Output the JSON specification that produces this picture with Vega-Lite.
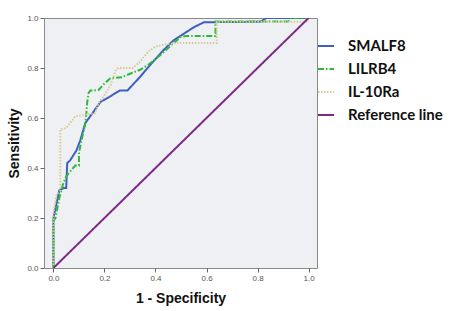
{
  "$schema": "https://vega.github.io/schema/vega-lite/v6.json",
  "width": 273,
  "height": 250,
  "autosize": {"type": "none"},
  "padding": {"left": 44, "top": 18, "right": 144, "bottom": 43},
  "background": "white",
  "config": {
    "view": {"fill": "#eef0f3", "stroke": "#8a8a8a", "strokeWidth": 1},
    "axis": {
      "domain": false,
      "grid": false,
      "tickColor": "#666666",
      "tickSize": 4,
      "labelFont": "Liberation Sans",
      "labelFontSize": 8,
      "labelColor": "#555555",
      "titleFont": "Liberation Sans",
      "titleFontWeight": "bold",
      "titleFontSize": 14,
      "titleColor": "#111111"
    }
  },
  "data": {
    "values": [
      {"s": "SMALF8", "x": 0, "y": 0},
      {"s": "SMALF8", "x": 0, "y": 0.2},
      {"s": "SMALF8", "x": 0.023, "y": 0.31},
      {"s": "SMALF8", "x": 0.04, "y": 0.32},
      {"s": "SMALF8", "x": 0.05, "y": 0.32},
      {"s": "SMALF8", "x": 0.054, "y": 0.42},
      {"s": "SMALF8", "x": 0.065, "y": 0.43},
      {"s": "SMALF8", "x": 0.09, "y": 0.47},
      {"s": "SMALF8", "x": 0.105, "y": 0.51},
      {"s": "SMALF8", "x": 0.125, "y": 0.58},
      {"s": "SMALF8", "x": 0.15, "y": 0.615},
      {"s": "SMALF8", "x": 0.185, "y": 0.665},
      {"s": "SMALF8", "x": 0.22, "y": 0.685},
      {"s": "SMALF8", "x": 0.26, "y": 0.71},
      {"s": "SMALF8", "x": 0.29, "y": 0.71},
      {"s": "SMALF8", "x": 0.34, "y": 0.765},
      {"s": "SMALF8", "x": 0.38, "y": 0.813},
      {"s": "SMALF8", "x": 0.43, "y": 0.87},
      {"s": "SMALF8", "x": 0.47, "y": 0.91},
      {"s": "SMALF8", "x": 0.55, "y": 0.963},
      {"s": "SMALF8", "x": 0.59, "y": 0.983},
      {"s": "SMALF8", "x": 0.81, "y": 0.985},
      {"s": "SMALF8", "x": 0.835, "y": 1.0},
      {"s": "SMALF8", "x": 1, "y": 1},
      {"s": "LILRB4", "x": 0, "y": 0},
      {"s": "LILRB4", "x": 0, "y": 0.19},
      {"s": "LILRB4", "x": 0.008, "y": 0.2},
      {"s": "LILRB4", "x": 0.023, "y": 0.28},
      {"s": "LILRB4", "x": 0.036, "y": 0.33},
      {"s": "LILRB4", "x": 0.047, "y": 0.36},
      {"s": "LILRB4", "x": 0.06, "y": 0.38},
      {"s": "LILRB4", "x": 0.086, "y": 0.41},
      {"s": "LILRB4", "x": 0.1, "y": 0.41},
      {"s": "LILRB4", "x": 0.1, "y": 0.46},
      {"s": "LILRB4", "x": 0.108, "y": 0.5},
      {"s": "LILRB4", "x": 0.125, "y": 0.58},
      {"s": "LILRB4", "x": 0.129, "y": 0.62},
      {"s": "LILRB4", "x": 0.132, "y": 0.66},
      {"s": "LILRB4", "x": 0.138, "y": 0.7},
      {"s": "LILRB4", "x": 0.145, "y": 0.71},
      {"s": "LILRB4", "x": 0.177, "y": 0.712},
      {"s": "LILRB4", "x": 0.2, "y": 0.738},
      {"s": "LILRB4", "x": 0.222, "y": 0.758},
      {"s": "LILRB4", "x": 0.268, "y": 0.763},
      {"s": "LILRB4", "x": 0.307, "y": 0.78},
      {"s": "LILRB4", "x": 0.34, "y": 0.793},
      {"s": "LILRB4", "x": 0.372, "y": 0.813},
      {"s": "LILRB4", "x": 0.425, "y": 0.857},
      {"s": "LILRB4", "x": 0.46, "y": 0.89},
      {"s": "LILRB4", "x": 0.5, "y": 0.925},
      {"s": "LILRB4", "x": 0.52, "y": 0.928},
      {"s": "LILRB4", "x": 0.635, "y": 0.928},
      {"s": "LILRB4", "x": 0.635, "y": 0.986},
      {"s": "LILRB4", "x": 0.92, "y": 0.986},
      {"s": "LILRB4", "x": 0.93, "y": 1.0},
      {"s": "LILRB4", "x": 1, "y": 1},
      {"s": "IL-10Ra", "x": 0, "y": 0},
      {"s": "IL-10Ra", "x": 0, "y": 0.22},
      {"s": "IL-10Ra", "x": 0.012, "y": 0.29},
      {"s": "IL-10Ra", "x": 0.027, "y": 0.31},
      {"s": "IL-10Ra", "x": 0.027, "y": 0.554},
      {"s": "IL-10Ra", "x": 0.05, "y": 0.56},
      {"s": "IL-10Ra", "x": 0.086, "y": 0.607},
      {"s": "IL-10Ra", "x": 0.125, "y": 0.613},
      {"s": "IL-10Ra", "x": 0.164, "y": 0.62},
      {"s": "IL-10Ra", "x": 0.177, "y": 0.66},
      {"s": "IL-10Ra", "x": 0.197, "y": 0.686},
      {"s": "IL-10Ra", "x": 0.223, "y": 0.73},
      {"s": "IL-10Ra", "x": 0.245, "y": 0.793},
      {"s": "IL-10Ra", "x": 0.255, "y": 0.8},
      {"s": "IL-10Ra", "x": 0.31, "y": 0.8},
      {"s": "IL-10Ra", "x": 0.34, "y": 0.826},
      {"s": "IL-10Ra", "x": 0.372, "y": 0.866},
      {"s": "IL-10Ra", "x": 0.4, "y": 0.886},
      {"s": "IL-10Ra", "x": 0.44, "y": 0.895},
      {"s": "IL-10Ra", "x": 0.48, "y": 0.9},
      {"s": "IL-10Ra", "x": 0.64, "y": 0.9},
      {"s": "IL-10Ra", "x": 0.64, "y": 0.985},
      {"s": "IL-10Ra", "x": 0.99, "y": 0.985},
      {"s": "IL-10Ra", "x": 1, "y": 1},
      {"s": "Reference line", "x": 0, "y": 0},
      {"s": "Reference line", "x": 1, "y": 1}
    ]
  },
  "mark": {"type": "line", "strokeWidth": 2, "clip": true},
  "encoding": {
    "x": {
      "field": "x",
      "type": "quantitative",
      "scale": {"domain": [-0.037, 1.033], "nice": false, "zero": false},
      "axis": {"values": [0, 0.2, 0.4, 0.6, 0.8, 1.0], "format": ".1f", "title": "1 - Specificity", "titlePadding": 9}
    },
    "y": {
      "field": "y",
      "type": "quantitative",
      "scale": {"domain": [0, 1], "nice": false},
      "axis": {"values": [0, 0.2, 0.4, 0.6, 0.8, 1.0], "format": ".1f", "title": "Sensitivity", "titlePadding": 5}
    },
    "color": {
      "field": "s",
      "type": "nominal",
      "scale": {
        "domain": ["SMALF8", "LILRB4", "IL-10Ra", "Reference line"],
        "range": ["#3f5ebf", "#2fb83c", "#d6cc92", "#7b2a86"]
      },
      "legend": {
        "title": null,
        "orient": "none",
        "legendX": 273,
        "legendY": 19,
        "symbolType": "stroke",
        "symbolSize": 256,
        "symbolStrokeWidth": 2,
        "labelFont": "Lato",
        "labelFontWeight": "bold",
        "labelFontSize": 15,
        "labelColor": "#111111",
        "labelOffset": 13,
        "rowPadding": 6
      }
    },
    "strokeDash": {
      "field": "s",
      "type": "nominal",
      "scale": {
        "domain": ["SMALF8", "LILRB4", "IL-10Ra", "Reference line"],
        "range": [[1, 0], [6, 2, 1.5, 2], [1.5, 1.5], [1, 0]]
      },
      "legend": null
    },
    "order": [{"field": "x", "type": "quantitative"}, {"field": "y", "type": "quantitative"}]
  }
}
